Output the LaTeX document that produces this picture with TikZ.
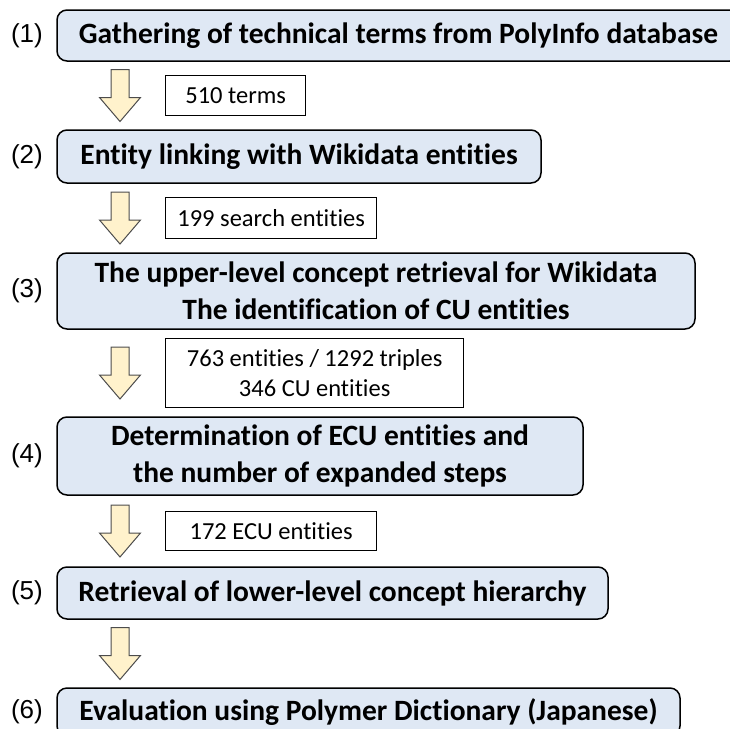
\documentclass[tikz,border=0pt]{standalone}
\usepackage{fontspec}
\setmainfont[Ligatures=NoCommon]{Carlito}
\newfontfamily\arialfont{Liberation Sans}
\usetikzlibrary{positioning,calc}
\definecolor{stepfill}{HTML}{DFE8F4}
\definecolor{arrowfill}{HTML}{FFF2CC}
\tikzset{
  stepbox/.style={draw, line width=1.5pt, rounded corners=10pt, fill=stepfill, align=center, inner sep=0pt, outer sep=0pt, font=\fontsize{29.5}{37}\selectfont\bfseries},
  countbox/.style={draw, line width=1.3pt, fill=white, align=center, inner sep=0pt, anchor=west, font=\fontsize{24.5}{30}\selectfont},
  stepnum/.style={inner sep=0pt, font=\arialfont\fontsize{26}{30}\selectfont},
  flowarrow/.style={draw=black!70, line width=1pt, fill=arrowfill, line join=miter},
  pics/downarrow/.style={code={
    \draw[flowarrow] (-9pt,26pt) -- (9pt,26pt) -- (9pt,-2pt) -- (20.5pt,-2pt)
      -- (0pt,-26pt) -- (-20.5pt,-2pt) -- (-9pt,-2pt) -- cycle;}}
}

\begin{document}
\begin{tikzpicture}
\useasboundingbox (0,0) rectangle (730pt,-728pt);
% process steps
\node[stepbox, anchor=north west, minimum width=683pt, minimum height=51pt] (s1) at (57pt,-10pt) {Gathering of technical terms from PolyInfo database};
\node[stepbox, below right=69pt and 0pt of s1.south west, minimum width=484pt, minimum height=53pt] (s2) {Entity linking with Wikidata entities};
\node[stepbox, below right=70pt and 0pt of s2.south west, minimum width=638pt, minimum height=76pt] (s3) {The upper-level concept retrieval for Wikidata\\The identification of CU entities};
\node[stepbox, below right=88pt and 0pt of s3.south west, minimum width=526pt, minimum height=78pt] (s4) {Determination of ECU entities and\\the number of expanded steps};
\node[stepbox, below right=72pt and 0pt of s4.south west, minimum width=551pt, minimum height=52pt] (s5) {Retrieval of lower-level concept hierarchy};
\node[stepbox, below right=69pt and 0pt of s5.south west, minimum width=623pt, minimum height=48pt] (s6) {Evaluation using Polymer Dictionary (Japanese)};

% step numbers
\foreach \i in {1,...,6}
  \node[stepnum, left=14pt of s\i] (n\i) {(\i)};

% arrows between steps
\foreach \i/\j in {1/2,2/3,3/4,4/5,5/6}{
  \coordinate (a\i) at ($(s\i.south west)!0.5!(s\j.north west)+(63pt,0)$);
  \pic at (a\i) {downarrow};
}

% counts
\node[countbox, minimum width=140pt, minimum height=40pt] (c1) at ([xshift=45pt]a1) {510 terms};
\node[countbox, minimum width=211pt, minimum height=41pt] (c2) at ([xshift=45pt]a2) {199 search entities};
\node[countbox, minimum width=298pt, minimum height=69pt] (c3) at ([xshift=45pt]a3) {763 entities / 1292 triples\\346 CU entities};
\node[countbox, minimum width=211pt, minimum height=39pt] (c4) at ([xshift=45pt]a4) {172 ECU entities};
\end{tikzpicture}
\end{document}
